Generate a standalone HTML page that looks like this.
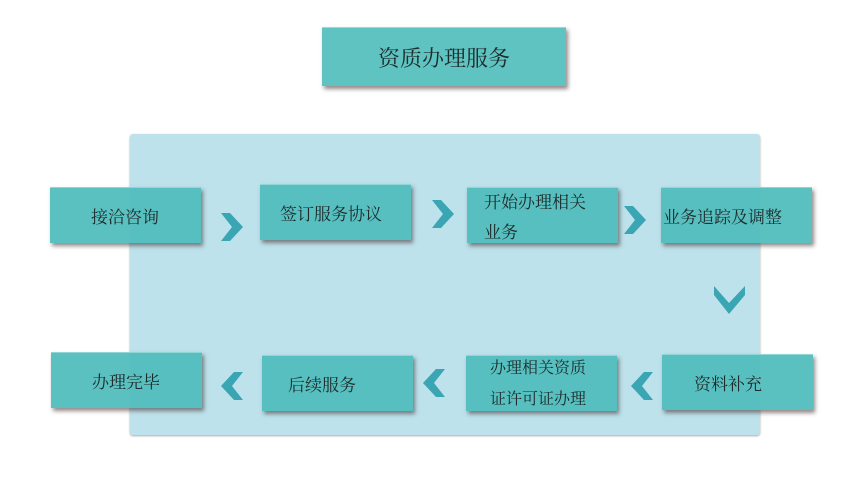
<!DOCTYPE html>
<html><head><meta charset="utf-8"><style>
body{margin:0;width:843px;height:497px;background:#fff;position:relative;overflow:hidden;font-family:"Liberation Serif","Noto Serif CJK SC",serif}
.panel{position:absolute;left:130px;top:134px;width:630px;height:301px;background:#bde2ec;border-radius:3px;box-shadow:0 1px 2px rgba(0,0,0,.35)}
.b{position:absolute;width:151px;height:56px;background:rgba(79,188,187,.93);border-top:1px solid #8fd6d4;box-shadow:2px 3px 4px rgba(60,40,40,.55);color:#1e2b2b;font-size:17px;display:flex;align-items:center;box-sizing:border-box}
.t{position:absolute;left:322px;top:27px;width:244px;height:58px;background:#5ec3c1;border-top:1px solid #9ad9d7;box-shadow:2px 3px 4px rgba(60,40,40,.55);color:#1e2b2b;font-size:22px;display:flex;align-items:center;justify-content:center}
svg{position:absolute;left:0;top:0}
</style></head><body>
<div class="t">资质办理服务</div>
<div class="panel"></div>
<div class="b" style="left:50px;top:187px;padding-left:41px">接洽咨询</div>
<div class="b" style="left:260px;top:184px;padding-left:20px">签订服务协议</div>
<div class="b" style="left:467px;top:187px;padding-left:17px;line-height:30px;align-items:flex-start;padding-top:0px">开始办理相关<br>业务</div>
<div class="b" style="left:661px;top:187px;padding-left:2px">业务追踪及调整</div>
<div class="b" style="left:51px;top:352px;padding-left:41px">办理完毕</div>
<div class="b" style="left:262px;top:355px;padding-left:26px">后续服务</div>
<div class="b" style="left:466px;top:355px;padding-left:24px;line-height:31px;font-size:16px">办理相关资质<br>证许可证办理</div>
<div class="b" style="left:662px;top:354px;padding-left:32px">资料补充</div>
<svg width="843" height="497">
<g fill="#3aa5b3">
<polygon points="221,213 230,213 243,227 230,241 221,241 232,227"/>
<polygon points="432,200 441,200 454,214 441,228 432,228 443,214"/>
<polygon points="624,206 633,206 646,220 633,234 624,234 635,220"/>
<polygon points="714,286 714,295 729,314 745,295 745,286 729,303"/>
<polygon points="243,372 234,372 221,386 234,400 243,400 232,386"/>
<polygon points="445,369 436,369 423,383 436,397 445,397 434,383"/>
<polygon points="653,372 644,372 631,386 644,400 653,400 642,386"/>
</g></svg>
</body></html>
